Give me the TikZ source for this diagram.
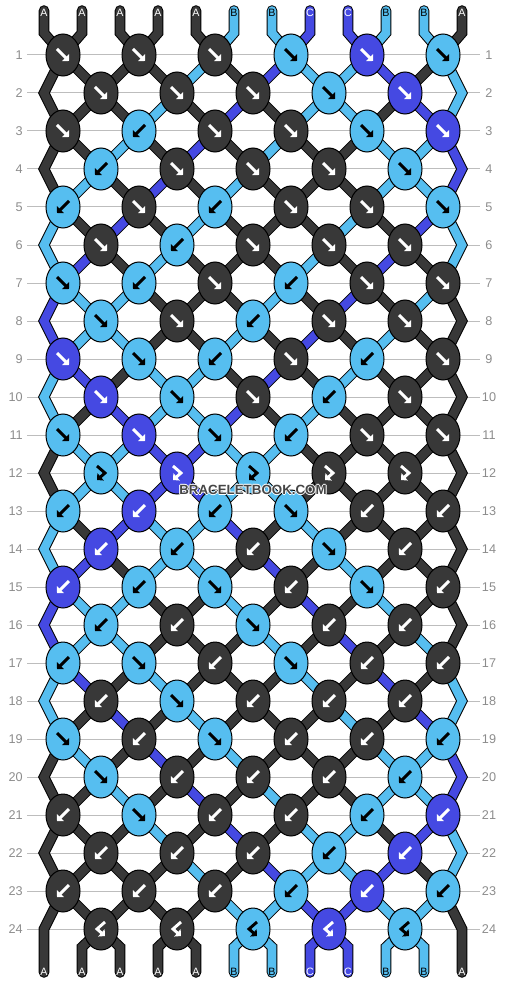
\documentclass[tikz,border=0pt]{standalone}
\usepackage{fontspec}
\setmainfont{Liberation Sans}
\usetikzlibrary{shapes.geometric,arrows.meta}

\definecolor{threadA}{HTML}{383838}
\definecolor{threadB}{HTML}{56BEF0}
\definecolor{threadC}{HTML}{4549E2}
\colorlet{glyphA}{white}
\colorlet{glyphB}{black}
\colorlet{glyphC}{white}
\definecolor{rowgray}{HTML}{8C8C8C}
\definecolor{linegray}{HTML}{BDBDBD}
\definecolor{stampgray}{HTML}{454545}

\pgfdeclarelayer{strings}
\pgfsetlayers{strings,main}

\tikzset{
  knot/.style={ellipse, draw=black, line width=0.75pt, minimum width=25.5pt, minimum height=31.5pt, inner sep=0pt},
  thread/.style={draw=black, line width=0.75pt, double distance=6.4pt},
  glyph/.style={line width=2.2pt, -{Triangle[length=3.6pt,width=7.2pt]}},
  rownum/.style={text=rowgray, inner sep=0pt, font=\fontsize{9.5}{11}\selectfont},
  tag/.style={inner sep=0pt, font=\fontsize{8}{9}\selectfont},
  stamp/.style={inner sep=0pt, font=\bfseries\fontsize{10}{12}\selectfont},
  gridline/.style={linegray, line width=0.75pt}
}

\begin{document}
\begin{tikzpicture}[x=0.75pt, y=-0.75pt]
    \useasboundingbox (0,0) rectangle (506,984);

    % Row lines and numbers
    \foreach \r in {1,...,24} {
        \pgfmathsetmacro\y{55+38*(\r-1)}
        \begin{pgfonlayer}{strings}
            \draw[gridline] (27,\y) -- (480,\y);
        \end{pgfonlayer}
        \node[rownum, anchor=east] (nl-\r) at (23,\y) {\r};
        \node[rownum] (nr-\r) at (489,\y) {\r};
    }

    % Knots: colour / kind (1 = fwd, 2 = bwd, 3 = fwd-bwd, 4 = bwd-fwd)
    \foreach \r/\row in {
        1/{A/1,A/1,A/1,B/1,C/1,B/1}, 2/{A/1,A/1,A/1,B/1,C/1},
        3/{A/1,B/2,A/1,A/1,B/1,C/1}, 4/{B/2,A/1,A/1,A/1,B/1},
        5/{B/2,A/1,B/2,A/1,A/1,B/1}, 6/{A/1,B/2,A/1,A/1,A/1},
        7/{B/1,B/2,A/1,B/2,A/1,A/1}, 8/{B/1,A/1,B/2,A/1,A/1},
        9/{C/1,B/1,B/2,A/1,B/2,A/1}, 10/{C/1,B/1,A/1,B/2,A/1},
        11/{B/1,C/1,B/1,B/2,A/1,A/1}, 12/{B/3,C/3,B/3,A/3,A/3},
        13/{B/2,C/2,B/2,B/1,A/2,A/2}, 14/{C/2,B/2,A/2,B/1,A/2},
        15/{C/2,B/2,B/1,A/2,B/1,A/2}, 16/{B/2,A/2,B/1,A/2,A/2},
        17/{B/2,B/1,A/2,B/1,A/2,A/2}, 18/{A/2,B/1,A/2,A/2,A/2},
        19/{B/1,A/2,B/1,A/2,A/2,B/2}, 20/{B/1,A/2,A/2,A/2,B/2},
        21/{A/2,B/1,A/2,A/2,B/2,C/2}, 22/{A/2,A/2,A/2,B/2,C/2},
        23/{A/2,A/2,A/2,B/2,C/2,B/2}, 24/{A/4,A/4,B/4,C/4,B/4}} {
        \pgfmathsetmacro\y{55+38*(\r-1)}
        \pgfmathsetmacro\xo{isodd(\r) ? 63 : 101}
        \pgfmathtruncatemacro\po{isodd(\r) ? 0 : 1}
        \foreach \col/\kind [count=\n] in \row {
            \node[knot, fill=thread\col] (k-\r-\n) at (\xo+76*\n-76,\y) {};
            \ifcase\kind\or
                \draw[glyph, glyph\col] ([shift={(-6,-6)}]k-\r-\n.center) -- ++(12,12);
            \or
                \draw[glyph, glyph\col] ([shift={(6,-6)}]k-\r-\n.center) -- ++(-12,12);
            \or
                \draw[glyph, glyph\col] ([shift={(-4,-7)}]k-\r-\n.center) -- ++(8,7) -- ++(-8,7);
            \or
                \draw[glyph, glyph\col] ([shift={(4,-7)}]k-\r-\n.center) -- ++(-8,7) -- ++(8,7);
            \fi
            \pgfmathtruncatemacro\pa{2*\n-1+\po}
            \pgfmathtruncatemacro\pb{2*\n+\po}
            \coordinate (s-\r-\pa) at (k-\r-\n.center);
            \coordinate (s-\r-\pb) at (k-\r-\n.center);
        }
        % edge turns
        \ifodd\r\else
            \coordinate (s-\r-1) at (44,\y);
            \coordinate (s-\r-12) at (462,\y);
        \fi
    }

    \begin{pgfonlayer}{strings}
        % Strings at the top
        \foreach \col [count=\p] in {A,A,A,A,A,B,B,C,C,B,B,A} {
            \pgfmathsetmacro\x{44+38*(\p-1)}
            \coordinate (top-\p) at (\x,10.5);
            \draw[thread, double=thread\col, line cap=round] (top-\p) -- (\x,33) -- (s-1-\p);
            \node[tag, text=glyph\col] (lt-\p) at (\x,12.5) {\col};
        }

        % Strings between rows
        \foreach \r/\state in {
            1/{A,A,A,A,B,A,C,B,B,C,A,B}, 2/{A,A,A,B,A,C,A,B,B,A,C,B},
            3/{A,A,B,A,C,A,B,A,A,B,B,C}, 4/{A,B,A,C,A,B,A,A,A,B,B,C},
            5/{B,A,C,A,B,A,A,A,B,A,C,B}, 6/{B,C,A,B,A,A,A,B,A,C,A,B},
            7/{C,B,B,A,A,A,B,A,C,A,B,A}, 8/{C,B,B,A,A,B,A,C,A,B,A,A},
            9/{B,C,A,B,B,A,C,A,B,A,A,A}, 10/{B,A,C,B,B,C,A,B,A,A,A,A},
            11/{A,B,B,C,C,B,B,A,A,A,A,A}, 12/{A,B,B,C,C,B,B,A,A,A,A,A},
            13/{B,A,C,B,B,C,A,B,A,A,A,A}, 14/{B,C,A,B,B,A,C,A,B,A,A,A},
            15/{C,B,B,A,A,B,A,C,A,B,A,A}, 16/{C,B,B,A,A,A,B,A,C,A,B,A},
            17/{B,C,A,B,A,A,A,B,A,C,A,B}, 18/{B,A,C,A,B,A,A,A,B,A,C,B},
            19/{A,B,A,C,A,B,A,A,A,B,B,C}, 20/{A,A,B,A,C,A,B,A,A,B,B,C},
            21/{A,A,A,B,A,C,A,B,B,A,C,B}, 22/{A,A,A,A,B,A,C,B,B,C,A,B},
            23/{A,A,A,A,A,B,B,C,C,B,B,A}} {
            \pgfmathtruncatemacro\rn{\r+1}
            \pgfmathtruncatemacro\rp{\r-1}
            \foreach \col [count=\p] in \state {
                \pgfmathtruncatemacro\side{(\p==1)||(\p==12)}
                \ifnum\side=0
                    \draw[thread, double=thread\col] (s-\r-\p) -- (s-\rn-\p);
                \else\ifodd\r\else
                    \draw[thread, double=thread\col] (s-\rp-\p) -- (s-\r-\p) -- (s-\rn-\p);
                \fi\fi
            }
        }

        % Strings at the bottom
        \foreach \col [count=\p] in {A,A,A,A,A,B,B,C,C,B,B,A} {
            \pgfmathsetmacro\x{44+38*(\p-1)}
            \coordinate (bot-\p) at (\x,972.5);
            \pgfmathtruncatemacro\side{(\p==1)||(\p==12)}
            \ifnum\side=0
                \draw[thread, double=thread\col, line cap=round] (s-24-\p) -- (\x,947) -- (bot-\p);
            \else
                \draw[thread, double=thread\col, line cap=round] (s-23-\p) -- (s-24-\p) -- (bot-\p);
            \fi
            \node[tag, text=glyph\col] (lb-\p) at (\x,971.5) {\col};
        }
    \end{pgfonlayer}

    % Watermark
    \foreach \dx/\dy in {-1/0,1/0,0/-1,0/1}
        \node[stamp, text=white] at (253+\dx,490+\dy) {BRACELETBOOK.COM};
    \node[stamp, text=stampgray] (stamp) at (253,490) {BRACELETBOOK.COM};
\end{tikzpicture}
\end{document}
